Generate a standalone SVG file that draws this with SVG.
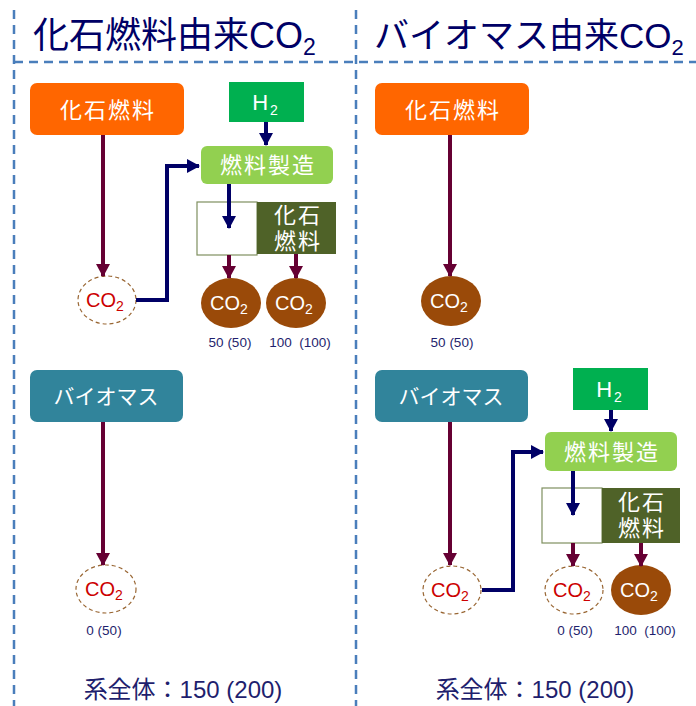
<svg xmlns="http://www.w3.org/2000/svg" width="696" height="706" viewBox="0 0 696 706">
<defs>
<style>
.jp{font-family:"Liberation Sans","Noto Sans CJK JP",sans-serif;}
.title{font-size:36px;fill:#000066;}
.boxt{font-size:22px;fill:#ffffff;letter-spacing:2px;}
.kana{font-size:21px;fill:#ffffff;letter-spacing:0px;}
.co2w{font-size:20px;fill:#ffffff;}
.co2r{font-size:20px;fill:#CC0000;}
.val{font-size:13.5px;fill:#1F1F6E;}
.tot{font-size:24px;fill:#1F1F6E;}
.dash{stroke:#4A7EBB;stroke-width:2.5;stroke-dasharray:9 6;fill:none;}
.red{stroke:#660033;stroke-width:4;fill:none;}
.navy{stroke:#000066;stroke-width:4;fill:none;}
.dell{fill:#ffffff;stroke:#996633;stroke-width:1.2;stroke-dasharray:4 3;}
.bell{fill:#9A4A09;}
</style>
<marker id="ar" markerUnits="userSpaceOnUse" markerWidth="14" markerHeight="14" refX="12" refY="7" orient="auto"><path d="M0,0 L13,7 L0,14 z" fill="#660033"/></marker>
<marker id="an" markerUnits="userSpaceOnUse" markerWidth="14" markerHeight="14" refX="12" refY="7" orient="auto"><path d="M0,0 L13,7 L0,14 z" fill="#000066"/></marker>
</defs>
<rect width="696" height="706" fill="#ffffff"/>
<g id="frame">
<line class="dash" x1="14" y1="10" x2="14" y2="706"/>
<line class="dash" x1="356" y1="10" x2="356" y2="706"/>
<line class="dash" x1="14" y1="62" x2="696" y2="62"/>
</g>
<g id="titles" class="jp">
<text class="title" x="33" y="48">化石燃料由来CO<tspan font-size="23" dy="7">2</tspan></text>
<text class="title" x="374" y="48" style="font-size:35px">バイオマス由来CO<tspan font-size="22" dy="7">2</tspan></text>
</g>
<g id="L-fossil" class="jp">
<rect x="30" y="83" width="154" height="52" rx="7" fill="#FF6600"/>
<text class="boxt" x="108" y="118" text-anchor="middle">化石燃料</text>
</g>
<g id="L-co2a" class="jp">
<ellipse class="dell" cx="107" cy="300" rx="29" ry="24"/>
<text class="co2r" x="105" y="307" text-anchor="middle">CO<tspan font-size="14" dy="4">2</tspan></text>
</g>
<g id="L-h2" class="jp">
<rect x="229" y="82" width="75" height="40" fill="#00B050"/>
<text class="boxt" x="266" y="110" text-anchor="middle">H<tspan font-size="14" dy="5">2</tspan></text>
</g>
<g id="L-mfg" class="jp">
<rect x="201" y="146" width="132" height="38" rx="6" fill="#92D050"/>
<text class="boxt" x="268" y="173" text-anchor="middle">燃料製造</text>
</g>
<g id="L-split" class="jp">
<rect x="197" y="202" width="60" height="53" fill="#ffffff" stroke="#7F8F5F" stroke-width="1.2"/>
<rect x="257" y="202" width="79" height="52" fill="#4F6228"/>
<text class="boxt" x="298" y="223" text-anchor="middle">化石</text>
<text class="boxt" x="298" y="249" text-anchor="middle">燃料</text>
</g>
<g id="L-co2b" class="jp">
<ellipse class="bell" cx="231" cy="303" rx="30" ry="25"/>
<text class="co2w" x="229" y="310" text-anchor="middle">CO<tspan font-size="14" dy="4">2</tspan></text>
<text class="val" x="230" y="347" text-anchor="middle">50 (50)</text>
</g>
<g id="L-co2c" class="jp">
<ellipse class="bell" cx="296" cy="303" rx="30" ry="25"/>
<text class="co2w" x="294" y="310" text-anchor="middle">CO<tspan font-size="14" dy="4">2</tspan></text>
<text class="val" x="300" y="347" text-anchor="middle" xml:space="preserve">100  (100)</text>
</g>
<g id="L-bio" class="jp">
<rect x="30" y="370" width="153" height="52" rx="7" fill="#31849B"/>
<text class="kana" x="106" y="404" text-anchor="middle">バイオマス</text>
</g>
<g id="L-co2d" class="jp">
<ellipse class="dell" cx="106" cy="589" rx="30" ry="24"/>
<text class="co2r" x="104" y="596" text-anchor="middle">CO<tspan font-size="14" dy="4">2</tspan></text>
<text class="val" x="104" y="635" text-anchor="middle">0 (50)</text>
</g>
<g id="L-total" class="jp">
<text class="tot" x="183" y="698" text-anchor="middle">系全体：150 (200)</text>
</g>
<g id="R-fossil" class="jp">
<rect x="375" y="83" width="154" height="52" rx="7" fill="#FF6600"/>
<text class="boxt" x="453" y="118" text-anchor="middle">化石燃料</text>
</g>
<g id="R-co2a" class="jp">
<ellipse class="bell" cx="451" cy="301" rx="30" ry="25"/>
<text class="co2w" x="449" y="308" text-anchor="middle">CO<tspan font-size="14" dy="4">2</tspan></text>
<text class="val" x="452" y="347" text-anchor="middle">50 (50)</text>
</g>
<g id="R-bio" class="jp">
<rect x="375" y="370" width="153" height="52" rx="7" fill="#31849B"/>
<text class="kana" x="451" y="404" text-anchor="middle">バイオマス</text>
</g>
<g id="R-h2" class="jp">
<rect x="573" y="368" width="75" height="42" fill="#00B050"/>
<text class="boxt" x="610" y="397" text-anchor="middle">H<tspan font-size="14" dy="5">2</tspan></text>
</g>
<g id="R-mfg" class="jp">
<rect x="545" y="432" width="132" height="39" rx="6" fill="#92D050"/>
<text class="boxt" x="612" y="460" text-anchor="middle">燃料製造</text>
</g>
<g id="R-split" class="jp">
<rect x="542" y="488" width="60" height="55" fill="#ffffff" stroke="#7F8F5F" stroke-width="1.2"/>
<rect x="602" y="488" width="78" height="55" fill="#4F6228"/>
<text class="boxt" x="642" y="510" text-anchor="middle">化石</text>
<text class="boxt" x="642" y="536" text-anchor="middle">燃料</text>
</g>
<g id="R-co2b" class="jp">
<ellipse class="dell" cx="452" cy="590" rx="29" ry="24"/>
<text class="co2r" x="450" y="597" text-anchor="middle">CO<tspan font-size="14" dy="4">2</tspan></text>
</g>
<g id="R-co2c" class="jp">
<ellipse class="dell" cx="574" cy="590" rx="29" ry="24"/>
<text class="co2r" x="572" y="597" text-anchor="middle">CO<tspan font-size="14" dy="4">2</tspan></text>
<text class="val" x="575" y="635" text-anchor="middle">0 (50)</text>
</g>
<g id="R-co2d" class="jp">
<ellipse class="bell" cx="641" cy="590" rx="30" ry="25"/>
<text class="co2w" x="639" y="597" text-anchor="middle">CO<tspan font-size="14" dy="4">2</tspan></text>
<text class="val" x="645" y="635" text-anchor="middle" xml:space="preserve">100  (100)</text>
</g>
<g id="R-total" class="jp">
<text class="tot" x="535" y="698" text-anchor="middle">系全体：150 (200)</text>
</g>
<g id="connectors">
<line class="red" x1="103" y1="135" x2="103" y2="276" marker-end="url(#ar)"/>
<line class="red" x1="103" y1="422" x2="103" y2="565" marker-end="url(#ar)"/>
<polyline class="navy" points="136,300 167,300 167,166 199,166" marker-end="url(#an)"/>
<line class="navy" x1="266" y1="122" x2="266" y2="145" marker-end="url(#an)"/>
<line class="navy" x1="229" y1="184" x2="229" y2="228" marker-end="url(#an)"/>
<line class="red" x1="229" y1="255" x2="229" y2="278" marker-end="url(#ar)"/>
<line class="red" x1="296" y1="254" x2="296" y2="278" marker-end="url(#ar)"/>
<line class="red" x1="450" y1="135" x2="450" y2="276" marker-end="url(#ar)"/>
<line class="red" x1="450" y1="422" x2="450" y2="565" marker-end="url(#ar)"/>
<polyline class="navy" points="482,590 513,590 513,452 543,452" marker-end="url(#an)"/>
<line class="navy" x1="611" y1="410" x2="611" y2="431" marker-end="url(#an)"/>
<line class="navy" x1="573" y1="471" x2="573" y2="515" marker-end="url(#an)"/>
<line class="red" x1="573" y1="543" x2="573" y2="566" marker-end="url(#ar)"/>
<line class="red" x1="641" y1="543" x2="641" y2="566" marker-end="url(#ar)"/>
</g>
</svg>
